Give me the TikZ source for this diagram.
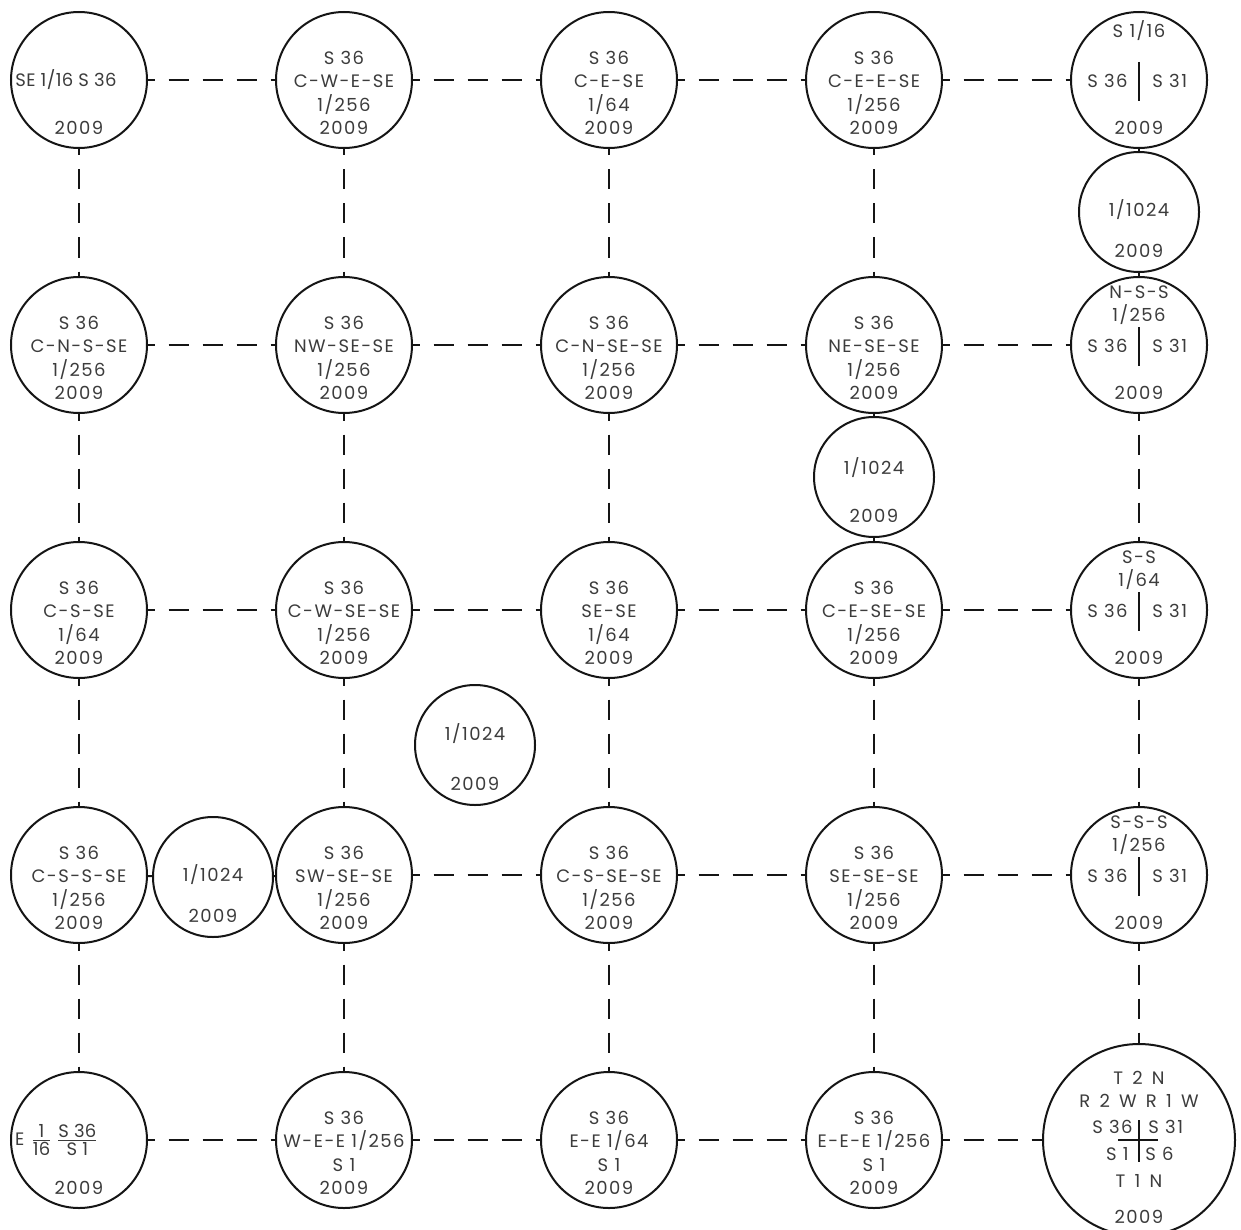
\documentclass[tikz,border=0pt]{standalone}
\usepackage{fontspec}
\setmainfont{Poppins}[LetterSpace=8]
\newfontfamily\plainfont{Poppins}[LetterSpace=2]
\usetikzlibrary{positioning}
\definecolor{ink}{HTML}{151515}
\definecolor{lettering}{HTML}{3C3C3C}
\tikzset{
  plat/.style={
    circle, draw=ink, line width=1pt,
    minimum size=68pt, inner sep=0pt,
  },
  tinyplat/.style={plat, minimum size=60pt},
  bigplat/.style={plat, minimum size=96pt},
  txt/.style={
    inner sep=0pt, align=center, text=lettering,
    font=\fontsize{9}{11.75}\selectfont,
  },
  plaintxt/.style={txt, font=\plainfont\fontsize{9}{11.75}\selectfont},
  link/.style={draw=ink, line width=1pt,
    dash pattern=on 10pt off 7pt, dash phase=6.75pt},
  tie/.style={draw=ink, line width=1pt},
  rule/.style={draw=ink, line width=0.8pt},
}

\begin{document}
\begin{tikzpicture}[x=0.5pt, y=-0.5pt]

  \path[fill=white, use as bounding box] (0,0) rectangle (1241,1230);

  % plats with four centred lines
  \foreach \n/\x/\y/\t in {
      c12/344/80/{S 36\\C-W-E-SE\\1/256\\2009},
      c13/609/80/{S 36\\C-E-SE\\1/64\\2009},
      c14/874/80/{S 36\\C-E-E-SE\\1/256\\2009},
      c21/79/345/{S 36\\C-N-S-SE\\1/256\\2009},
      c22/344/345/{S 36\\NW-SE-SE\\1/256\\2009},
      c23/609/345/{S 36\\C-N-SE-SE\\1/256\\2009},
      c24/874/345/{S 36\\NE-SE-SE\\1/256\\2009},
      c31/79/610/{S 36\\C-S-SE\\1/64\\2009},
      c32/344/610/{S 36\\C-W-SE-SE\\1/256\\2009},
      c33/609/610/{S 36\\SE-SE\\1/64\\2009},
      c34/874/610/{S 36\\C-E-SE-SE\\1/256\\2009},
      c41/79/875/{S 36\\C-S-S-SE\\1/256\\2009},
      c42/344/875/{S 36\\SW-SE-SE\\1/256\\2009},
      c43/609/875/{S 36\\C-S-SE-SE\\1/256\\2009},
      c44/874/875/{S 36\\SE-SE-SE\\1/256\\2009},
      c52/344/1140/{S 36\\W-E-E 1/256\\S 1\\2009},
      c53/609/1140/{S 36\\E-E 1/64\\S 1\\2009},
      c54/874/1140/{S 36\\E-E-E 1/256\\S 1\\2009}} {
    \node[plat] (\n) at (\x,\y) {};
    \node[txt] at ([yshift=-6.5pt]\n) {\t};
  }

  % plats split between S 36 and S 31
  \foreach \n/\y/\t in {
      c15/80/{S 1/16},
      c25/345/{N-S-S\\1/256},
      c35/610/{S-S\\1/64},
      c45/875/{S-S-S\\1/256}} {
    \node[plat] (\n) at (1139,\y) {};
    \node[txt, anchor=north] at ([yshift=30pt]\n) {\t};
    \node[txt, anchor=east] at ([xshift=-5.5pt, yshift=-0.5pt]\n) {S 36};
    \node[txt, anchor=west] at ([xshift=6.5pt, yshift=-0.5pt]\n) {S 31};
    \node[txt] at ([yshift=-24pt]\n) {2009};
    \draw[rule] ([yshift=9pt]\n.center) -- ([yshift=-10.5pt]\n.center);
  }

  % corner plats
  \node[plat] (c11) at (79,80) {};
  \node[plaintxt] at ([xshift=-6.5pt]c11) {SE 1/16 S 36};
  \node[txt] at ([yshift=-24pt]c11) {2009};

  \node[plat] (c51) at (79,1140) {};
  \node[plaintxt] at ([xshift=-11pt]c51)
    {E\,\,$\frac{\mbox{1}}{\mbox{16}}\,\frac{\mbox{S 36}}{\mbox{S 1}}$};
  \node[txt] at ([yshift=-24pt]c51) {2009};

  \node[bigplat] (c55) at (1139,1140) {};
  \node[txt] at ([yshift=25.25pt]c55) {T\,~2\,~N\\R\,~2\,~W\,~R\,~1\,~W};
  \node[txt, anchor=east] at ([xshift=-3pt, yshift=6.5pt]c55) {S 36};
  \node[txt, anchor=west] at ([xshift=4.5pt, yshift=6.5pt]c55) {S 31};
  \node[txt, anchor=east] at ([xshift=-5pt, yshift=-7pt]c55) {S 1};
  \node[txt, anchor=west] at ([xshift=3pt, yshift=-7pt]c55) {S 6};
  \node[txt] at ([yshift=-20.5pt]c55) {T\,~1\,~N};
  \node[txt] at ([yshift=-38.5pt]c55) {2009};
  \draw[rule] ([xshift=-10.5pt]c55.center) -- ([xshift=9.5pt]c55.center);
  \draw[rule] ([yshift=10pt]c55.center) -- ([yshift=-11pt]c55.center);

  % small 1/1024 plats
  \foreach \n/\x/\y/\up in {s1/1139/212/1, s2/874/477/4.5,
      s3/475/745/5.5, s4/213/877/1} {
    \node[tinyplat] (\n) at (\x,\y) {};
    \node[txt] at ([yshift=\up pt]\n) {1/1024};
    \node[txt] at ([yshift=-19.5pt]\n) {2009};
  }

  % dashed links
  \foreach \a/\b in {c11/c12, c12/c13, c13/c14, c14/c15,
      c21/c22, c22/c23, c23/c24, c24/c25,
      c31/c32, c32/c33, c33/c34, c34/c35,
      c42/c43, c43/c44, c44/c45,
      c51/c52, c52/c53, c53/c54, c54/c55,
      c11/c21, c21/c31, c31/c41, c41/c51,
      c12/c22, c22/c32, c32/c42, c42/c52,
      c13/c23, c23/c33, c33/c43, c43/c53,
      c14/c24, c34/c44, c44/c54,
      c25/c35, c35/c45, c45/c55}
    \draw[link] (\a) -- (\b);

  % short ties to the small plats
  \foreach \a/\b in {c15/s1, s1/c25, c24/s2, s2/c34, c41/s4, s4/c42}
    \draw[tie] (\a) -- (\b);

\end{tikzpicture}
\end{document}
